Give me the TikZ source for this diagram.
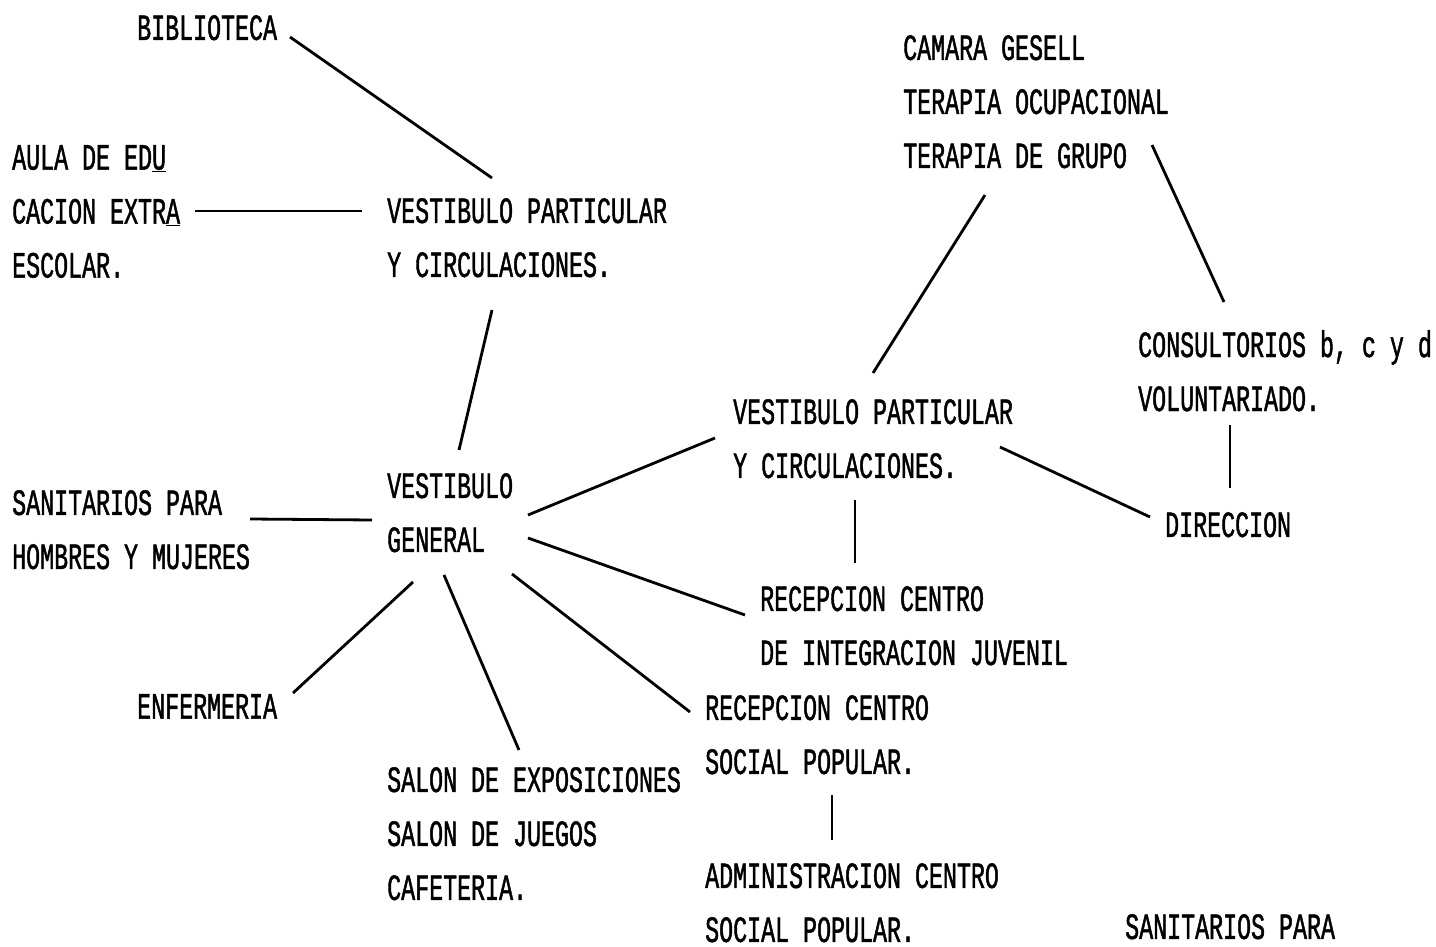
\documentclass[tikz,border=0pt]{standalone}
\usepackage{fontspec}
\setmainfont[FakeStretch=0.63,FakeBold=1.2]{Liberation Mono}
\usetikzlibrary{calc}
\tikzset{
  rotulo/.style={anchor=north west, inner sep=0pt, align=left, font=\fontsize{37}{54}\selectfont},
  enlace/.style={line width=2.8pt}
}
\begin{document}
\begin{tikzpicture}[x=1pt, y=-1pt]
    \useasboundingbox[fill=white] (0,0) rectangle (1436,947);
    % Locales
    \node[rotulo] (bib) at (137,15) {BIBLIOTECA};
    \node[rotulo] (aula) at (12,145) {AULA DE ED\underline{U}\\CACION EXTR\underline{A}\\ESCOLAR.};
    \node[rotulo] (v1) at (387,198) {VESTIBULO PARTICULAR\\Y CIRCULACIONES.};
    \node[rotulo] (cam) at (903,35) {CAMARA GESELL\\TERAPIA OCUPACIONAL\\TERAPIA DE GRUPO};
    \node[rotulo] (cons) at (1138,330) {CONSULTORIOS b, c y d\\VOLUNTARIADO.};
    \node[rotulo] (v2) at (733,399) {VESTIBULO PARTICULAR\\Y CIRCULACIONES.};
    \node[rotulo] (gen) at (387,473) {VESTIBULO\\GENERAL};
    \node[rotulo] (sanh) at (12,490) {SANITARIOS PARA\\HOMBRES Y MUJERES};
    \node[rotulo] (dir) at (1165,512) {DIRECCION};
    \node[rotulo] (recj) at (760,586) {RECEPCION CENTRO\\DE INTEGRACION JUVENIL};
    \node[rotulo] (enf) at (137,694) {ENFERMERIA};
    \node[rotulo] (recs) at (705,695) {RECEPCION CENTRO\\SOCIAL POPULAR.};
    \node[rotulo] (salon) at (387,767) {SALON DE EXPOSICIONES\\SALON DE JUEGOS\\CAFETERIA.};
    \node[rotulo] (adm) at (705,863) {ADMINISTRACION CENTRO\\SOCIAL POPULAR.};
    \node[rotulo] (sanb) at (1125,914) {SANITARIOS PARA};

    % Enlaces
    \draw[enlace] ($(bib.north west)+(153,22)$) -- ($(v1.north west)+(105,-20)$);
    \draw[enlace] ($(aula.north west)+(183,66)$) -- ($(v1.north west)+(-25,13)$);
    \draw[enlace] ($(v1.north west)+(105,112)$) -- ($(gen.north west)+(72,-23)$);
    \draw[enlace] ($(sanh.north west)+(238,29)$) -- ($(gen.north west)+(-15,47)$);
    \draw[enlace] ($(gen.north west)+(141,42)$) -- ($(v2.north west)+(-18,39)$);
    \draw[enlace] ($(gen.north west)+(141,65)$) -- ($(recj.north west)+(-15,29)$);
    \draw[enlace] ($(gen.north west)+(125,101)$) -- ($(recs.north west)+(-15,17)$);
    \draw[enlace] ($(gen.north west)+(57,102)$) -- ($(salon.north west)+(132,-17)$);
    \draw[enlace] ($(gen.north west)+(26,109)$) -- ($(enf.north west)+(156,-1)$);
    \draw[enlace] ($(v2.north west)+(140,-26)$) -- ($(cam.north west)+(82,160)$);
    \draw[enlace] ($(cam.north west)+(249,110)$) -- ($(cons.north west)+(86,-28)$);
    \draw[enlace] ($(cons.north west)+(92,95)$) -- ($(dir.north west)+(65,-24)$);
    \draw[enlace] ($(v2.north west)+(267,48)$) -- ($(dir.north west)+(-15,5)$);
    \draw[enlace] ($(v2.north west)+(122,101)$) -- ($(recj.north west)+(95,-23)$);
    \draw[enlace] ($(recs.north west)+(127,100)$) -- ($(adm.north west)+(127,-23)$);
\end{tikzpicture}
\end{document}
